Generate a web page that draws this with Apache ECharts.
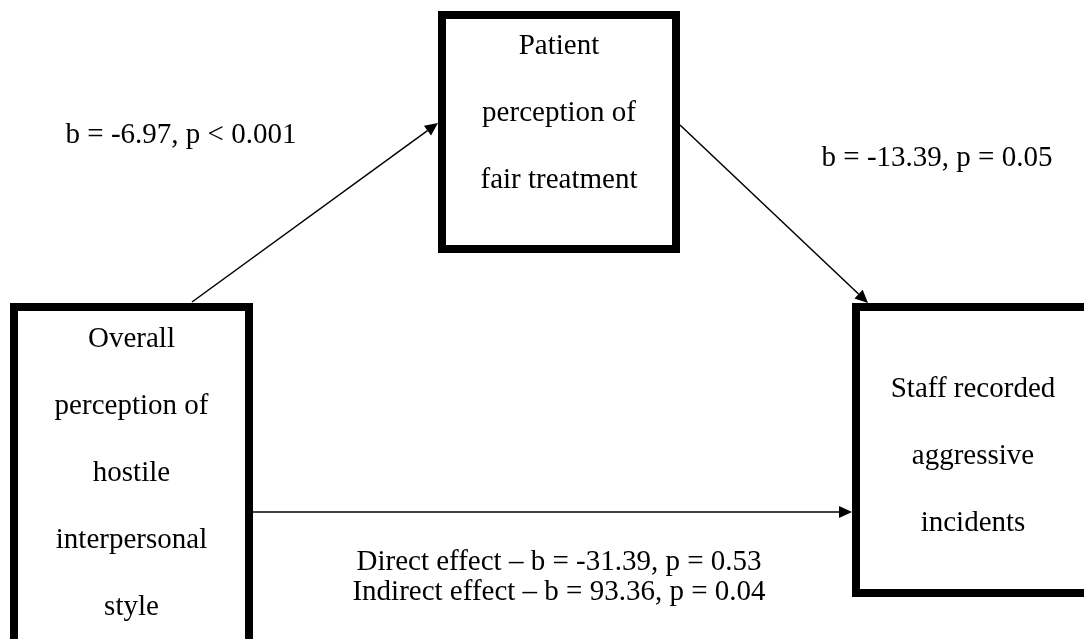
<!DOCTYPE html>
<html>
<head>
<meta charset="utf-8">
<script src="https://cdn.jsdelivr.net/npm/echarts@6/dist/echarts.min.js"></script>
<style>
html, body { margin: 0; padding: 0; background: #fff; }
#main { width: 1084px; height: 639px; }
</style>
</head>
<body>
<div id="main"></div>
<script>
// variables of the mediation model
const nodeLines = [
  ['Overall', 'perception of', 'hostile', 'interpersonal', 'style'],
  ['Patient', 'perception of', 'fair treatment'],
  ['Staff recorded', 'aggressive', 'incidents']
]
// paths a, b and c'
const pathFrom = [0, 1, 0]
const pathTo = [1, 2, 2]
const pathB = [-6.97, -13.39]
const pathP = ['< 0.001', '= 0.05']
const effectNames = ['Direct effect', 'Indirect effect']
const effectB = [-31.39, 93.36]
const effectP = [0.53, 0.04]

// layout, in page units (1084 x 639)
const boxRect = [[10, 303, 253, 647], [438, 11, 680, 253], [852, 303, 1094, 597]]
const boxTextY = [473, 113, 456]
const pathEnds = [[192, 302, 438, 123], [680, 125, 868, 303], [253, 512, 852, 512]]
const labelPos = [[181, 135], [937, 158], [559, 577]]

const FONT = '"Liberation Serif", "Times New Roman", serif'

let myChart = echarts.init(document.getElementById('main'))

function renderBox(params, api) {
  let i = params.dataIndex
  let p0 = api.coord([api.value(0), api.value(1)])
  let p1 = api.coord([api.value(2), api.value(3)])
  let lw = 8
  let ty = api.coord([0, boxTextY[i]])[1]
  return {
    type: 'group',
    children: [
      {
        type: 'rect',
        shape: {x: p0[0] + lw / 2, y: p0[1] + lw / 2, width: p1[0] - p0[0] - lw, height: p1[1] - p0[1] - lw},
        style: {fill: '#fff', stroke: '#000', lineWidth: lw}
      },
      {
        type: 'text',
        style: {
          text: nodeLines[i].join('\n'),
          x: (p0[0] + p1[0]) / 2,
          y: ty,
          align: 'center',
          verticalAlign: 'middle',
          fontSize: 29,
          fontFamily: FONT,
          lineHeight: 67,
          fill: '#000'
        }
      }
    ]
  }
}

function renderArrow(params, api) {
  let s = api.coord([api.value(0), api.value(1)])
  let e = api.coord([api.value(2), api.value(3)])
  let ang = Math.atan2(e[1] - s[1], e[0] - s[0])
  let len = 13, hw = 6
  let bx = e[0] - len * Math.cos(ang)
  let by = e[1] - len * Math.sin(ang)
  let nx = -Math.sin(ang) * hw
  let ny = Math.cos(ang) * hw
  return {
    type: 'group',
    children: [
      {
        type: 'line',
        shape: {x1: s[0], y1: s[1], x2: bx, y2: by},
        style: {stroke: '#000', lineWidth: 1.5}
      },
      {
        type: 'polygon',
        shape: {points: [[e[0], e[1]], [bx + nx, by + ny], [bx - nx, by - ny]]},
        style: {fill: '#000'}
      }
    ]
  }
}

let labelTexts = [
  'b = ' + pathB[0].toFixed(2) + ', p ' + pathP[0],
  'b = ' + pathB[1].toFixed(2) + ', p ' + pathP[1],
  effectNames.map((n, i) => n + ' \u2013 b = ' + effectB[i].toFixed(2) + ', p = ' + effectP[i].toFixed(2)).join('\n')
]

function renderLabel(params, api) {
  let p = api.coord([api.value(0), api.value(1)])
  return {
    type: 'text',
    style: {
      text: labelTexts[params.dataIndex],
      x: p[0],
      y: p[1],
      align: 'center',
      verticalAlign: 'middle',
      fontSize: 29,
      fontFamily: FONT,
      lineHeight: 30,
      fill: '#000'
    }
  }
}

let arrowData = pathFrom.map((f, i) => pathEnds[i])

let option = {
  animation: false,
  backgroundColor: '#fff',
  grid: {left: 0, right: 0, top: 0, bottom: 0},
  xAxis: {type: 'value', min: 0, max: 1084, show: false},
  yAxis: {type: 'value', min: 0, max: 639, inverse: true, show: false},
  series: [
    {
      type: 'custom',
      silent: true,
      renderItem: renderArrow,
      data: arrowData,
      z: 1
    },
    {
      type: 'custom',
      silent: true,
      renderItem: renderBox,
      data: boxRect,
      z: 2
    },
    {
      type: 'custom',
      silent: true,
      renderItem: renderLabel,
      data: labelPos,
      z: 3
    }
  ]
}

myChart.setOption(option)
</script>
</body>
</html>
